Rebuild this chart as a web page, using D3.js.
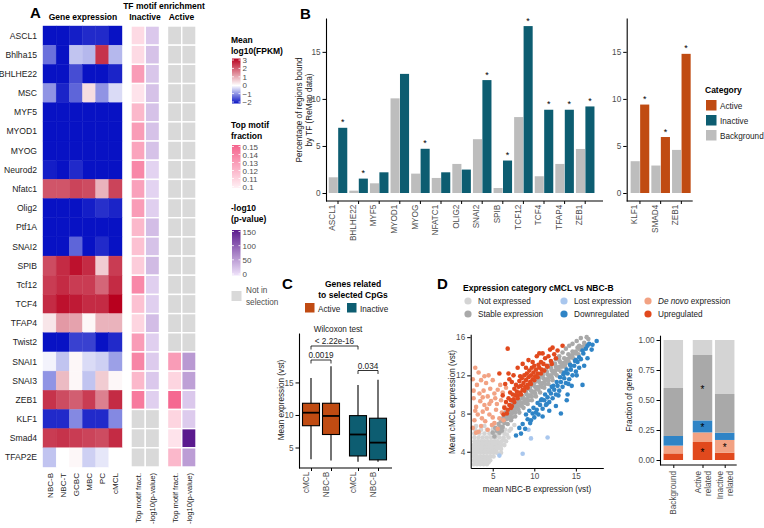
<!DOCTYPE html>
<html>
<head>
<meta charset="utf-8">
<script src="https://cdn.jsdelivr.net/npm/d3@7"></script>
<style>
  body { margin: 0; background: #fff; }
  svg { font-family: "Liberation Sans", Arial, sans-serif; }
</style>
</head>
<body>
<svg id="fig" width="764" height="528"></svg>
<script>
// ---------- A : heatmap ----------
const genes = ["ASCL1", "Bhlha15", "BHLHE22", "MSC", "MYF5", "MYOD1", "MYOG", "Neurod2",
  "Nfatc1", "Olig2", "Ptf1A", "SNAI2", "SPIB", "Tcf12", "TCF4", "TFAP4", "Twist2",
  "SNAI1", "SNAI3", "ZEB1", "KLF1", "Smad4", "TFAP2E"];
const cellTypes = ["NBC-B", "NBC-T", "GCBC", "MBC", "PC", "cMCL"];
// mean log10(FPKM), one row per gene
const exprValues = [
  [-2, -2, -1.9, -1.8, -1.8, -2],
  [-1.2, -2, -0.5, -0.6, 2.4, -0.6],
  [-2, -2, -1.5, -2, -2, -1.85],
  [-0.9, -1.85, -1.3, 0.4, -0.9, -0.3],
  [-2, -2, -2, -2, -2, -2],
  [-2, -2, -2, -2, -2, -2],
  [-2, -2, -2, -2, -2, -2],
  [-1.9, -2, -1.8, -2, -2, -2],
  [2.0, 2.0, 2.2, 2.1, 0.9, 2.2],
  [-2, -2, -2, -1.9, -1.75, -1.85],
  [-2, -2, -2, -2, -2, -2],
  [-2, -2, -1.3, -2, -1.8, -2],
  [2.1, 2.5, 2.8, 2.5, 0.6, 2.3],
  [2.3, 2.5, 2.3, 2.3, 1.8, 2.5],
  [2.5, 2.8, 2.7, 2.5, 2.5, 3.0],
  [0.3, 1.2, 1.1, 0.1, 0.9, 0.9],
  [-2, -2, -1.6, -1.6, -2, -1.8],
  [-0.1, -0.5, 0.1, -0.3, -0.4, -0.8],
  [-0.9, 0.8, 0.1, -0.5, 0.6, 0.1],
  [2.4, 2.1, 1.9, 2.3, 1.5, 2.5],
  [-1.8, -1.8, -1.0, -1.8, -1.8, -1.0],
  [2.3, 2.4, 2.3, 2.2, 2.1, 2.5],
  [-0.5, 0, 0.1, -0.4, -0.2, 0.0]
];
// TF motif enrichment (null = not in selection)
const inactiveFrac = [0.108, 0.108, 0.13, 0.105, 0.12, 0.13, 0.127, 0.137, 0.128, 0.13, 0.12,
  0.117, 0.113, 0.137, 0.117, 0.11, 0.13, 0.138, 0.12, 0.142, null, null, null];
const inactiveP = [20, 25, 22, 25, 25, 25, 25, 12, 12, 15, 28, 25, 30, 15, 15, 28, 15, 18, 20, 15,
  null, null, null];
const activeFrac = [null, null, null, null, null, null, null, null, null, null, null, null, null,
  null, null, null, null, 0.13, 0.11, 0.148, 0.11, 0.105, 0.12];
const activeP = [null, null, null, null, null, null, null, null, null, null, null, null, null,
  null, null, null, null, 55, 50, 20, 18, 150, 52];
const motifCols = ["Top motif fract.", "-log10(p-value)"];
const exprTicks = [3, 2, 1, 0, -1, -2];
const fracTicks = [0.15, 0.14, 0.13, 0.12, 0.11, 0.1];
const pTicks = [150, 100, 50, 0];

// ---------- B : ReMap ----------
const tfInactive = ["ASCL1", "BHLHE22", "MYF5", "MYOD1", "MYOG", "NFATC1", "OLIG2", "SNAI2",
  "SPIB", "TCF12", "TCF4", "TFAP4", "ZEB1"];
const bgInactive = [1.67, 0.25, 1.03, 10.06, 2.06, 1.6, 3.09, 5.72, 0.53, 8.07, 1.78, 3.09, 4.68];
const valInactive = [6.93, 1.53, 2.2, 12.66, 4.7, 2.2, 2.49, 12.0, 3.45, 17.74, 8.85, 8.85, 9.2];
const sigInactive = [1, 1, 0, 0, 1, 0, 0, 1, 1, 1, 1, 1, 1];
const tfActive = ["KLF1", "SMAD4", "ZEB1"];
const bgActive = [3.38, 2.92, 4.58];
const valActive = [9.4, 5.95, 14.79];
const sigActive = [1, 1, 1];
const categories = ["Active", "Inactive", "Background"];
const yTicksB = [0, 5, 10, 15];

// ---------- C : boxplots ----------
const boxGroups = ["Active", "Active", "Inactive", "Inactive"];
const boxSamples = ["cMCL", "NBC-B", "cMCL", "NBC-B"];
// [lower whisker, Q1, median, Q3, upper whisker]
const boxStats = [
  [3.2, 8.35, 10.35, 11.8, 15.7],
  [3.0, 7.0, 9.85, 11.8, 17.5],
  [2.8, 3.7, 7.0, 9.9, 14.6],
  [2.8, 3.1, 5.75, 9.5, 15.4]
];
const yTicksC = [5, 10, 15];

// ---------- D : expression categories ----------
const exprCats = ["Not expressed", "Stable expression", "Lost expression", "Downregulated",
  "De novo expression", "Upregulated"];
const catColors = ["#D4D4D4", "#A9A9A9", "#A9C7EE", "#2F84C6", "#F2A283", "#E1491D"];

const notExpressed = [
  [2.7,2.7],[3.1,2.7],[3.5,2.7],[3.9,2.7],[4.3,2.7],
  [2.7,3.1],[3.1,3.1],[3.5,3.1],[3.9,3.1],[4.3,3.1],[4.7,3.1],
  [2.7,3.5],[3.1,3.5],[3.5,3.5],[3.9,3.5],[4.3,3.5],[4.7,3.5],[5.1,3.5],
  [2.7,3.9],[3.1,3.9],[3.5,3.9],[3.9,3.9],[4.3,3.9],[4.7,3.9],[5.1,3.9],[5.5,3.9],
  [2.7,4.3],[3.1,4.3],[3.5,4.3],[3.9,4.3],[4.3,4.3],[4.7,4.3],[5.1,4.3],[5.5,4.3],[6.0,4.3],
  [2.7,4.7],[3.1,4.7],[3.5,4.7],[3.9,4.7],[4.3,4.7],[4.7,4.7],[5.1,4.7],[5.5,4.7],[6.0,4.7],[6.4,4.7],
  [2.8,5.1],[3.2,5.1],[3.6,5.1],[4.0,5.1],[4.4,5.1],[4.8,5.1],[5.2,5.1],[5.6,5.1],[6.1,5.1],[6.6,5.1],
  [2.8,5.5],[3.3,5.5],[3.8,5.5],[4.3,5.5],[4.8,5.5],[5.3,5.5],[5.8,5.5],[6.3,5.5],[6.9,5.5],
  [2.8,5.9],[3.4,5.9],[4.0,5.9],[4.6,5.9],[5.2,5.9],[5.8,5.9],[6.4,5.9],
  [2.9,6.3],[3.6,6.3],[4.3,6.3],[5.0,6.3],[5.7,6.3],[6.5,6.3],
  [3.0,6.7],[4.0,6.7],[5.0,6.7],[6.0,6.7],[7.2,6.4],[3.2,2.9],[4.5,2.9],[7.6,6.8],
  [3.0,2.9],[3.7,2.9],[4.1,2.9],[2.9,3.3],[3.3,3.3],[3.7,3.3],[4.1,3.3],[4.5,3.3],[2.9,4.1],[3.3,4.1],
  [3.7,4.1],[4.1,4.1],[4.5,4.1],[4.9,4.1],[5.3,4.1],[2.9,4.5],[3.3,4.5],[3.7,4.5],[4.1,4.5],[4.5,4.5],
  [4.9,4.5],[5.3,4.5],[5.8,4.5],[3.0,4.9],[3.4,4.9],[3.8,4.9],[4.2,4.9],[4.6,4.9],[5.0,4.9],[5.4,4.9],
  [5.9,4.9],[6.3,5.3],[5.5,5.7],[6.7,5.8],[7.0,6.2],[5.4,6.1],[6.1,6.6],[2.8,3.7],[6.0,3.9]
];
const stableExpr = [
  [5.0,6.0],[5.2,5.6],[5.3,6.5],[5.6,6.4],[5.7,6.9],[5.8,6.0],
  [6.0,7.2],[6.2,6.6],[6.3,7.6],[6.1,6.2],[6.6,7.4],[6.7,7.9],[6.8,6.9],[6.5,8.1],
  [7.0,7.8],[7.1,8.4],[7.2,7.3],[7.3,8.0],[7.5,8.3],[7.6,8.8],[7.7,7.7],[7.8,8.5],[7.4,9.0],
  [8.0,8.7],[8.1,9.2],[8.2,8.1],[8.3,8.9],[8.0,9.5],[8.5,9.1],[8.6,9.6],[8.7,8.6],[8.8,9.3],[8.4,9.9],
  [9.0,9.5],[9.1,10.0],[9.2,9.0],[9.3,9.8],[9.0,10.4],[9.5,9.9],[9.6,10.4],[9.7,9.4],[9.8,10.2],[9.5,10.8],
  [10.0,10.3],[10.1,10.8],[10.2,9.8],[10.3,10.6],[10.0,11.2],[10.5,10.8],[10.6,11.3],[10.7,10.2],[10.8,11.0],[10.5,11.6],
  [11.0,11.2],[11.1,11.7],[11.2,10.7],[11.3,11.5],[11.0,12.0],[11.5,11.6],[11.6,12.1],[11.7,11.1],[11.8,11.9],[11.5,12.4],
  [12.0,12.0],[12.1,12.5],[12.2,11.5],[12.3,12.3],[12.0,12.8],[12.5,12.5],[12.6,12.9],[12.7,12.0],[12.8,12.7],[12.5,13.2],
  [13.0,12.9],[13.1,13.4],[13.2,12.4],[13.3,13.1],[13.0,13.6],[13.5,13.3],[13.6,13.8],[13.7,12.9],[13.8,13.5],
  [14.0,13.7],[14.1,14.2],[14.2,13.3],[14.3,13.9],[14.5,14.1],[14.6,14.5],[14.7,13.8],[14.8,14.4],
  [15.0,14.5],[15.2,14.9],[15.3,14.2],[15.4,15.1],[15.8,15.0],[16.0,15.4],[16.2,15.2],[16.5,15.8],
  [5.5,6.2],[5.9,6.6],[6.4,7.0],[6.9,7.5],[7.3,7.6],[7.7,8.1],[8.1,8.4],[8.5,8.8],[8.9,9.1],[9.3,9.4],
  [9.7,9.8],[10.1,10.1],[10.5,10.5],[10.9,10.8],[11.3,11.1],[11.7,11.5],[12.1,11.8],[12.5,12.2],[12.9,12.6],[13.3,12.9],
  [13.7,13.2],[14.1,13.6],[14.5,13.9],[14.9,14.3],[15.5,14.7],
  [6.2,7.4],[6.6,7.8],[7.0,8.2],[7.4,8.6],[7.8,9.0],[8.2,9.4],[8.6,9.8],[9.0,10.2],[9.4,10.6],[9.8,11.0],
  [10.2,11.4],[10.6,11.8],[11.0,12.2],[11.4,12.6],[11.8,13.0],[12.2,13.3],[12.6,13.7],[13.0,14.0],[13.4,14.4],[13.8,14.8],
  [14.2,15.1],[14.6,15.3],[15.1,15.6],[15.6,15.9],[16.3,16.0]
];
const lostExpr = [[9.6,5.4],[8.6,3.8],[11.6,5.5],[5.8,3.6],[9.3,6.3]];
const downReg = [
  [7.8,5.7],[8.2,6.5],[8.6,6.9],[8.9,6.4],[9.2,7.4],[9.5,7.0],[9.8,8.0],[10.0,7.6],[10.3,8.4],[10.5,7.9],
  [10.7,8.9],[11.0,8.5],[11.2,9.4],[11.4,8.9],[11.6,9.7],[11.8,9.2],[12.0,10.1],[12.2,9.6],[12.4,10.5],[12.6,10.0],
  [12.8,10.9],[13.0,10.4],[13.2,11.3],[13.4,10.8],[13.6,11.7],[13.8,11.2],[14.0,12.2],[14.2,11.6],[14.4,12.6],[14.6,12.0],
  [14.8,13.0],[15.0,12.4],[15.2,13.4],[15.4,12.8],[15.6,13.7],[15.9,14.3],[16.2,14.8],[16.6,15.3],[17.5,15.6],[16.9,14.7],
  [13.2,8.0],[14.0,10.0],[15.8,11.0],[9.6,7.3],[12.6,8.8],[14.5,10.9],[11.0,7.7],[13.6,12.3],[14.3,13.1],[15.0,13.6],
  [8.4,5.9],[10.8,9.4],[12.1,10.8],
  [9.0,7.9],[9.4,8.3],[9.9,8.6],[10.4,9.1],[10.9,9.5],[11.3,10.0],[11.8,10.4],[12.3,10.9],[12.7,11.3],[13.1,11.8],
  [13.5,12.1],[13.9,12.6],[14.4,13.0],[14.9,13.5],[15.4,13.9],[15.8,14.6],[16.4,15.1],[10.2,8.1],[11.5,9.0],[12.9,9.9],
  [14.1,11.1],[15.1,12.0],[16.0,13.0],[11.8,8.3],[13.9,9.4],[17.0,15.2],[16.4,13.8]
];
const deNovo = [
  [2.9,12.8],[3.6,11.5],[4.2,11.2],[3.4,10.1],[4.4,9.8],[5.2,10.1],[3.0,8.7],[3.8,8.2],[4.6,7.9],[5.4,8.4],
  [2.8,7.3],[3.6,6.7],[4.4,6.3],[5.2,7.0],[5.8,7.5],[6.0,9.4],[4.8,9.3],[4.0,8.9],[3.2,7.9],[6.4,8.7],
  [2.7,9.6],[3.1,11.0],[3.9,10.4],[4.7,10.6],[5.5,9.0],[2.6,6.5],[3.3,6.1],[4.1,7.2],[4.9,6.8],[5.6,6.4],
  [6.1,8.1],[2.9,8.3],[3.5,9.3],[4.3,8.5],[5.0,7.6],[3.7,7.5],[2.7,10.4],[6.6,10.7],[5.9,11.0],[4.5,12.0],
  [3.3,12.3],[4.0,11.9],[5.0,11.5],[5.6,10.5],[6.2,10.2],[2.6,11.6],[3.8,9.7],[4.6,9.0],[5.3,9.6],[3.0,6.0],
  [6.3,7.3]
];
const upReg = [
  [6.3,7.9],[6.4,8.6],[6.6,9.2],[6.8,8.4],[6.9,9.6],[7.0,8.9],[7.1,10.2],[7.2,9.4],[7.3,8.8],[7.4,10.0],
  [7.5,9.5],[7.6,10.6],[7.7,9.9],[7.8,11.0],[7.9,10.3],[8.0,9.9],[8.1,10.8],[8.2,11.4],[8.3,10.2],[8.4,10.9],
  [8.5,11.7],[8.6,10.5],[8.7,11.2],[8.8,12.0],[8.9,10.8],[9.0,11.5],[9.1,12.2],[9.2,11.0],[9.3,11.8],[9.4,12.5],
  [9.5,11.3],[9.6,12.0],[9.7,12.8],[9.8,11.6],[9.9,12.3],[10.0,13.0],[10.1,11.9],[10.2,12.6],[10.4,12.2],[10.5,13.1],
  [10.6,12.8],[10.8,13.4],[10.9,12.6],[11.1,13.2],[11.3,13.8],[11.5,13.0],[11.7,14.0],[12.0,13.5],[12.4,14.2],[12.8,14.6],
  [13.4,15.1],[6.8,14.8],[5.8,12.2],[6.9,12.2],[8.0,12.8],[7.3,11.3],[6.2,9.9],[8.6,13.2],[9.3,13.6],[7.0,11.6],
  [10.3,14.0],[11.0,14.3],
  [7.6,9.2],[8.0,9.6],[8.4,10.0],[8.8,10.4],[9.2,10.7],[9.6,11.1],[10.0,11.5],[10.4,11.8],[10.8,12.2],[11.2,12.5],
  [11.6,12.9],[12.1,13.2],[12.6,13.8],[7.2,8.6],[6.7,8.0],[8.3,11.9],[9.0,12.8],[9.8,13.4],[10.6,14.3],[12.2,14.9],
  [7.5,12.0],[6.5,11.1],[11.9,14.7]
];
const scatterSets = [notExpressed, stableExpr, deNovo, upReg, lostExpr, downReg];
const scatterCats = ["Not expressed", "Stable expression", "De novo expression", "Upregulated",
  "Lost expression", "Downregulated"];

const stackGroups = ["Background", "Active related", "Inactive related"];
// bottom to top order of the stack
const stackOrder = ["Upregulated", "De novo expression", "Lost expression", "Downregulated",
  "Stable expression", "Not expressed"];
const fracBackground = [0.055, 0.065, 0.0, 0.08, 0.40, 0.40];
const fracActiveRel = [0.15, 0.08, 0.0, 0.10, 0.545, 0.125];
const fracInactiveRel = [0.06, 0.107, 0.0, 0.06, 0.323, 0.45];
const starGroups = ["Active related", "Active related", "Active related", "Inactive related"];
const starCats = ["Stable expression", "Downregulated", "Upregulated", "De novo expression"];

// ================= drawing =================
const svg = d3.select("#fig");
const tickGrey = "#4D4D4D";

function label(g, x, y, s, o = {}) {
  const t = g.append("text")
    .attr("x", x).attr("y", y)
    .attr("font-size", o.size || 8.5)
    .attr("fill", o.fill || "#000")
    .attr("text-anchor", o.anchor || "start")
    .text(s);
  if (o.bold) t.attr("font-weight", "bold");
  if (o.rotate) t.attr("transform", `rotate(-90,${x},${y})`);
  return t;
}

function styleAxis(ax, rotate) {
  ax.select(".domain").attr("stroke", "#000").attr("stroke-width", 1.1);
  ax.selectAll(".tick line").attr("stroke", "#000").attr("stroke-width", 1);
  ax.selectAll(".tick text").attr("fill", tickGrey).attr("font-size", 8.2)
    .attr("font-family", "Liberation Sans, Arial, sans-serif");
  if (rotate) {
    ax.selectAll(".tick text")
      .attr("transform", "rotate(-90)")
      .attr("text-anchor", "end")
      .attr("dx", "-0.45em").attr("dy", "-0.35em")
      .attr("y", 0).attr("x", 0);
  }
}

// ---------- panel A ----------
const A = svg.append("g");
label(A, 30, 18, "A", { size: 15, bold: true });
label(A, 83, 20, "Gene expression", { size: 8.5, bold: true, anchor: "middle" });
label(A, 164, 9, "TF motif enrichment", { size: 8.5, bold: true, anchor: "middle" });
label(A, 145, 20, "Inactive", { size: 8.5, bold: true, anchor: "middle" });
label(A, 181.5, 20, "Active", { size: 8.5, bold: true, anchor: "middle" });

const rowY = d3.scaleBand().domain(genes).range([26, 467]);
const exprX = d3.scaleBand().domain(cellTypes).range([43, 122]);
const exprColor = d3.scaleLinear().domain([-2, 0, 3])
  .range(["#0812C4", "#FFFFFF", "#B8001E"]).interpolate(d3.interpolateRgb).clamp(true);
const fracColor = d3.scaleLinear().domain([0.1, 0.15])
  .range(["#FFF1F5", "#F5638D"]).clamp(true);
const pColor = d3.scaleLinear().domain([0, 150])
  .range(["#EFE3FA", "#5B1A8E"]).clamp(true);
const inactX = d3.scaleBand().domain(motifCols).range([131, 159.5]);
const actX = d3.scaleBand().domain(motifCols).range([167.5, 196]);
const naGrey = "#D9D9D9";

genes.forEach((gName, i) => {
  cellTypes.forEach((c, j) => {
    const col = exprColor(exprValues[i][j]);
    A.append("rect")
      .attr("x", exprX(c)).attr("y", rowY(gName))
      .attr("width", exprX.bandwidth()).attr("height", rowY.bandwidth())
      .attr("fill", col).attr("stroke", col).attr("stroke-width", 0.4);
  });
  const motifCells = [
    [inactX, motifCols[0], inactiveFrac[i], fracColor],
    [inactX, motifCols[1], inactiveP[i], pColor],
    [actX, motifCols[0], activeFrac[i], fracColor],
    [actX, motifCols[1], activeP[i], pColor]
  ];
  motifCells.forEach(([sc, key, v, cs]) => {
    A.append("rect")
      .attr("x", sc(key)).attr("y", rowY(gName))
      .attr("width", sc.bandwidth()).attr("height", rowY.bandwidth())
      .attr("fill", v == null ? naGrey : cs(v))
      .attr("stroke", "#fff").attr("stroke-width", 1.4);
  });
  label(A, 37, rowY(gName) + rowY.bandwidth() / 2 + 3, gName, { size: 8.6, anchor: "end", fill: "#222" });
});

// bottom labels
cellTypes.forEach(c => {
  label(A, exprX(c) + exprX.bandwidth() / 2 + 3, 473, c, { anchor: "end", rotate: true, fill: "#222", size: 8 });
});
[inactX, actX].forEach(sc => {
  motifCols.forEach(m => {
    label(A, sc(m) + sc.bandwidth() / 2 + 3, 473, m, { anchor: "end", rotate: true, fill: "#222", size: 7.6 });
  });
});

// colour bar legends
const defs = svg.append("defs");
function colorBar(id, scale, ticks, y0, y1, titleLines, titleY) {
  const lo = d3.min(ticks), hi = d3.max(ticks);
  const grad = defs.append("linearGradient").attr("id", id)
    .attr("x1", 0).attr("x2", 0).attr("y1", 1).attr("y2", 0);
  d3.range(0, 1.0001, 0.05).forEach(t => {
    grad.append("stop").attr("offset", t).attr("stop-color", scale(lo + t * (hi - lo)));
  });
  const yS = d3.scaleLinear().domain([lo, hi]).range([y1, y0]);
  titleLines.forEach((s, k) => label(A, 231, titleY + k * 11, s, { size: 8.5, bold: true }));
  A.append("rect").attr("x", 232).attr("y", y0 - 1.5).attr("width", 8.5).attr("height", y1 - y0 + 3)
    .attr("fill", `url(#${id})`);
  ticks.forEach(t => {
    A.append("line").attr("x1", 232).attr("x2", 234).attr("y1", yS(t)).attr("y2", yS(t))
      .attr("stroke", "#fff").attr("stroke-width", 0.8);
    A.append("line").attr("x1", 238.5).attr("x2", 240.5).attr("y1", yS(t)).attr("y2", yS(t))
      .attr("stroke", "#fff").attr("stroke-width", 0.8);
    label(A, 242.5, yS(t) + 3, String(t).replace("-", "\u2212"), { size: 8, fill: tickGrey });
  });
}
colorBar("gExpr", exprColor, exprTicks, 60, 102, ["Mean", "log10(FPKM)"], 43);
colorBar("gFrac", fracColor, fracTicks, 146.5, 186.5, ["Top motif", "fraction"], 128);
colorBar("gP", pColor, pTicks, 231.5, 274, ["-log10", "(p-value)"], 211);
A.append("rect").attr("x", 231.5).attr("y", 291).attr("width", 10).attr("height", 10).attr("fill", naGrey);
label(A, 246, 293, "Not in", { size: 8.2, fill: tickGrey });
label(A, 246, 305, "selection", { size: 8.2, fill: tickGrey });

// ---------- panel B ----------
const B = svg.append("g");
const catColor = d3.scaleOrdinal().domain(categories).range(["#C04B12", "#0D5D71", "#BDBDBD"]);
label(B, 300, 19, "B", { size: 15, bold: true });
const yB = d3.scaleLinear().domain([-0.85, 18.6]).range([201, 18]);
label(B, 302, 110, "Percentage of regions bound", { anchor: "middle", rotate: true, fill: "#222", size: 8.2 });
label(B, 312, 110, "by TF (ReMap data)", { anchor: "middle", rotate: true, fill: "#222", size: 8.2 });

function barPanel(names, bg, val, sig, xRange, xLeft, xRight, catName) {
  const x = d3.scaleBand().domain(names).range(xRange);
  const inner = d3.scaleBand().domain(["Background", catName]).range([x.bandwidth() * 0.05, x.bandwidth() * 0.95])
    .paddingInner(0.04);
  const gp = B.append("g");
  names.forEach((n, i) => {
    [["Background", bg[i]], [catName, val[i]]].forEach(([c, v]) => {
      gp.append("rect")
        .attr("x", x(n) + inner(c)).attr("y", yB(v))
        .attr("width", inner.bandwidth()).attr("height", yB(0) - yB(v))
        .attr("fill", catColor(c));
    });
    if (sig[i]) {
      label(gp, x(n) + inner(catName) + inner.bandwidth() / 2, yB(val[i]) - 2.5, "*", { anchor: "middle", size: 9 });
    }
  });
  const ay = gp.append("g").attr("transform", `translate(${xLeft},0)`)
    .call(d3.axisLeft(yB).tickValues(yTicksB).tickSize(3.5).tickSizeOuter(0).tickPadding(2));
  styleAxis(ay);
  const ax = gp.append("g").attr("transform", "translate(0,201)")
    .call(d3.axisBottom(x).tickSize(3).tickSizeOuter(0));
  ax.select(".domain").remove();
  styleAxis(ax, true);
  gp.append("line").attr("x1", xLeft).attr("x2", xRight).attr("y1", 201).attr("y2", 201)
    .attr("stroke", "#000").attr("stroke-width", 1.1);
}
barPanel(tfInactive, bgInactive, valInactive, sigInactive, [327.7, 595.5], 326, 603, "Inactive");
barPanel(tfActive, bgActive, valActive, sigActive, [629.6, 691.7], 626.7, 692.7, "Active");

label(B, 705, 93, "Category", { size: 8.5, bold: true });
categories.forEach((c, k) => {
  B.append("rect").attr("x", 706).attr("y", 100 + k * 15).attr("width", 10.5).attr("height", 10.5)
    .attr("fill", catColor(c));
  label(B, 720, 108.5 + k * 15, c, { size: 8.2, fill: "#222" });
});

// ---------- panel C ----------
const C = svg.append("g");
label(C, 282, 289, "C", { size: 15, bold: true });
label(C, 353, 287, "Genes related", { size: 8.5, bold: true, anchor: "middle" });
label(C, 353, 297.5, "to selected CpGs", { size: 8.5, bold: true, anchor: "middle" });
const groupColor = d3.scaleOrdinal().domain(["Active", "Inactive"]).range(["#C04B12", "#0D5D71"]);
["Active", "Inactive"].forEach((g, k) => {
  const x0 = k === 0 ? 305 : 347;
  C.append("rect").attr("x", x0).attr("y", 303).attr("width", 9.5).attr("height", 9.5)
    .attr("fill", groupColor(g));
  label(C, x0 + 13, 311.5, g, { size: 8.2, fill: "#222" });
});
label(C, 338, 332, "Wilcoxon test", { size: 8.2, anchor: "middle", fill: "#222" });

const yC = d3.scaleLinear().domain([1.85, 22.6]).range([468, 333]);
const xOuter = d3.scaleBand().domain(["Active", "Inactive"]).range([297.5, 391.5]);
const xInner = d3.scaleBand().domain(["cMCL", "NBC-B"]).range([3.5, 43.5]);
const boxW = 17;
const boxCenters = [];
boxStats.forEach((s, i) => {
  const cx = xOuter(boxGroups[i]) + xInner(boxSamples[i]) + xInner.bandwidth() / 2;
  boxCenters.push(cx);
  const bx = C.append("g");
  bx.append("line").attr("x1", cx).attr("x2", cx).attr("y1", yC(s[0])).attr("y2", yC(s[4]))
    .attr("stroke", "#000").attr("stroke-width", 1.1);
  bx.append("rect").attr("x", cx - boxW / 2).attr("y", yC(s[3]))
    .attr("width", boxW).attr("height", yC(s[1]) - yC(s[3]))
    .attr("fill", groupColor(boxGroups[i])).attr("stroke", "#000").attr("stroke-width", 1.1);
  bx.append("line").attr("x1", cx - boxW / 2).attr("x2", cx + boxW / 2)
    .attr("y1", yC(s[2])).attr("y2", yC(s[2])).attr("stroke", "#000").attr("stroke-width", 1.8);
});
const ayC = C.append("g").attr("transform", "translate(299,0)")
  .call(d3.axisLeft(yC).tickValues(yTicksC).tickSize(3.5).tickSizeOuter(0).tickPadding(2));
styleAxis(ayC);
const axC = C.append("g").attr("transform", "translate(0,468)")
  .call(d3.axisBottom(d3.scaleOrdinal().domain([0, 1, 2, 3]).range(boxCenters))
    .tickValues([0, 1, 2, 3]).tickFormat(i => boxSamples[i]).tickSize(3).tickSizeOuter(0));
axC.select(".domain").remove();
styleAxis(axC, true);
C.append("line").attr("x1", 299).attr("x2", 392).attr("y1", 468).attr("y2", 468)
  .attr("stroke", "#000").attr("stroke-width", 1.1);
label(C, 284, 400, "Mean expression (vst)", { anchor: "middle", rotate: true, fill: "#222", size: 8.2 });

const brackets = [[0, 2, 346, "< 2.22e-16"], [0, 1, 360, "0.0019"], [2, 3, 370.5, "0.034"]];
brackets.forEach(([a, b, y, s]) => {
  const xa = boxCenters[a], xb = boxCenters[b];
  C.append("path").attr("d", `M${xa},${y + 3.5}V${y}H${xb}V${y + 3.5}`)
    .attr("fill", "none").attr("stroke", "#000").attr("stroke-width", 0.8);
  label(C, (xa + xb) / 2, y - 2, s, { size: 8.2, anchor: "middle", fill: "#222" });
});

// ---------- panel D ----------
const D = svg.append("g");
label(D, 437, 289, "D", { size: 15, bold: true });
label(D, 463, 290.5, "Expression category cMCL vs NBC-B", { size: 8.5, bold: true });
const dColor = d3.scaleOrdinal().domain(exprCats).range(catColors);
const legendPos = [[468, 301], [468, 314], [564, 301], [564, 314], [648, 301], [648, 314]];
exprCats.forEach((c, k) => {
  const [lx, ly] = legendPos[k];
  D.append("circle").attr("cx", lx).attr("cy", ly).attr("r", 3.6).attr("fill", dColor(c));
  if (c === "De novo expression") {
    const t = label(D, lx + 10, ly + 3, "", { size: 8.2, fill: "#222" });
    t.append("tspan").attr("font-style", "italic").text("De novo");
    t.append("tspan").text(" expression");
  } else {
    label(D, lx + 10, ly + 3, c, { size: 8.2, fill: "#222" });
  }
});

const xS = d3.scaleLinear().domain([2.35, 18.3]).range([470.7, 603.3]);
const yS = d3.scaleLinear().domain([2.3, 16.3]).range([468, 334.3]);
scatterSets.forEach((pts, k) => {
  D.append("g").selectAll("circle").data(pts).join("circle")
    .attr("cx", d => xS(d[0])).attr("cy", d => yS(d[1])).attr("r", 2.3)
    .attr("fill", dColor(scatterCats[k]));
});
const axS = D.append("g").attr("transform", "translate(0,468)")
  .call(d3.axisBottom(xS).tickValues([5, 10, 15]).tickSize(3.5).tickSizeOuter(0).tickPadding(2));
styleAxis(axS);
const aySc = D.append("g").attr("transform", "translate(470.7,0)")
  .call(d3.axisLeft(yS).tickValues([4, 8, 12, 16]).tickSize(3.5).tickSizeOuter(0).tickPadding(2));
styleAxis(aySc);
label(D, 537, 492, "mean NBC-B expression (vst)", { anchor: "middle", fill: "#222", size: 8.2 });
label(D, 455, 402, "Mean cMCL expression (vst)", { anchor: "middle", rotate: true, fill: "#222", size: 8.2 });

// stacked bars
const ySt = d3.scaleLinear().domain([-0.04, 1.04]).range([464.8, 335.2]);
const xSt = d3.scaleOrdinal().domain(stackGroups).range([673.3, 702.5, 724.7]);
const stackW = 19.5;
const stackFracs = [fracBackground, fracActiveRel, fracInactiveRel];
const stackRows = stackGroups.map((g, i) => {
  const row = { group: g };
  stackOrder.forEach((c, k) => { row[c] = stackFracs[i][k]; });
  return row;
});
const series = d3.stack().keys(stackOrder)(stackRows);
series.forEach(s => {
  s.forEach(d => {
    D.append("rect")
      .attr("x", xSt(d.data.group) - stackW / 2).attr("y", ySt(d[1]))
      .attr("width", stackW).attr("height", Math.max(0, ySt(d[0]) - ySt(d[1])))
      .attr("fill", dColor(s.key));
  });
});
starGroups.forEach((g, k) => {
  const s = series.find(q => q.key === starCats[k]);
  const d = s[stackGroups.indexOf(g)];
  label(D, xSt(g), ySt((d[0] + d[1]) / 2) + 5, "*", { size: 10, anchor: "middle" });
});
const aySt = D.append("g").attr("transform", "translate(660,0)")
  .call(d3.axisLeft(ySt).tickValues([0, 0.25, 0.5, 0.75, 1]).tickFormat(d3.format(".2f"))
    .tickSize(3.5).tickSizeOuter(0).tickPadding(2));
styleAxis(aySt);
const axSt = D.append("g").attr("transform", "translate(0,465)")
  .call(d3.axisBottom(xSt).tickSize(3).tickSizeOuter(0).tickFormat(""));
axSt.select(".domain").remove();
styleAxis(axSt);
D.append("line").attr("x1", 660).attr("x2", 736.7).attr("y1", 465).attr("y2", 465)
  .attr("stroke", "#000").attr("stroke-width", 1.1);
stackGroups.forEach(g => {
  const parts = g.split(" ");
  parts.forEach((p, k) => {
    const off = (k - (parts.length - 1) / 2) * 10;
    label(D, xSt(g) + off + 3, 471, p, { anchor: "end", rotate: true, fill: tickGrey, size: 8.2 });
  });
});
label(D, 632, 400, "Fraction of genes", { anchor: "middle", rotate: true, fill: "#222", size: 8.2 });
</script>
</body>
</html>
